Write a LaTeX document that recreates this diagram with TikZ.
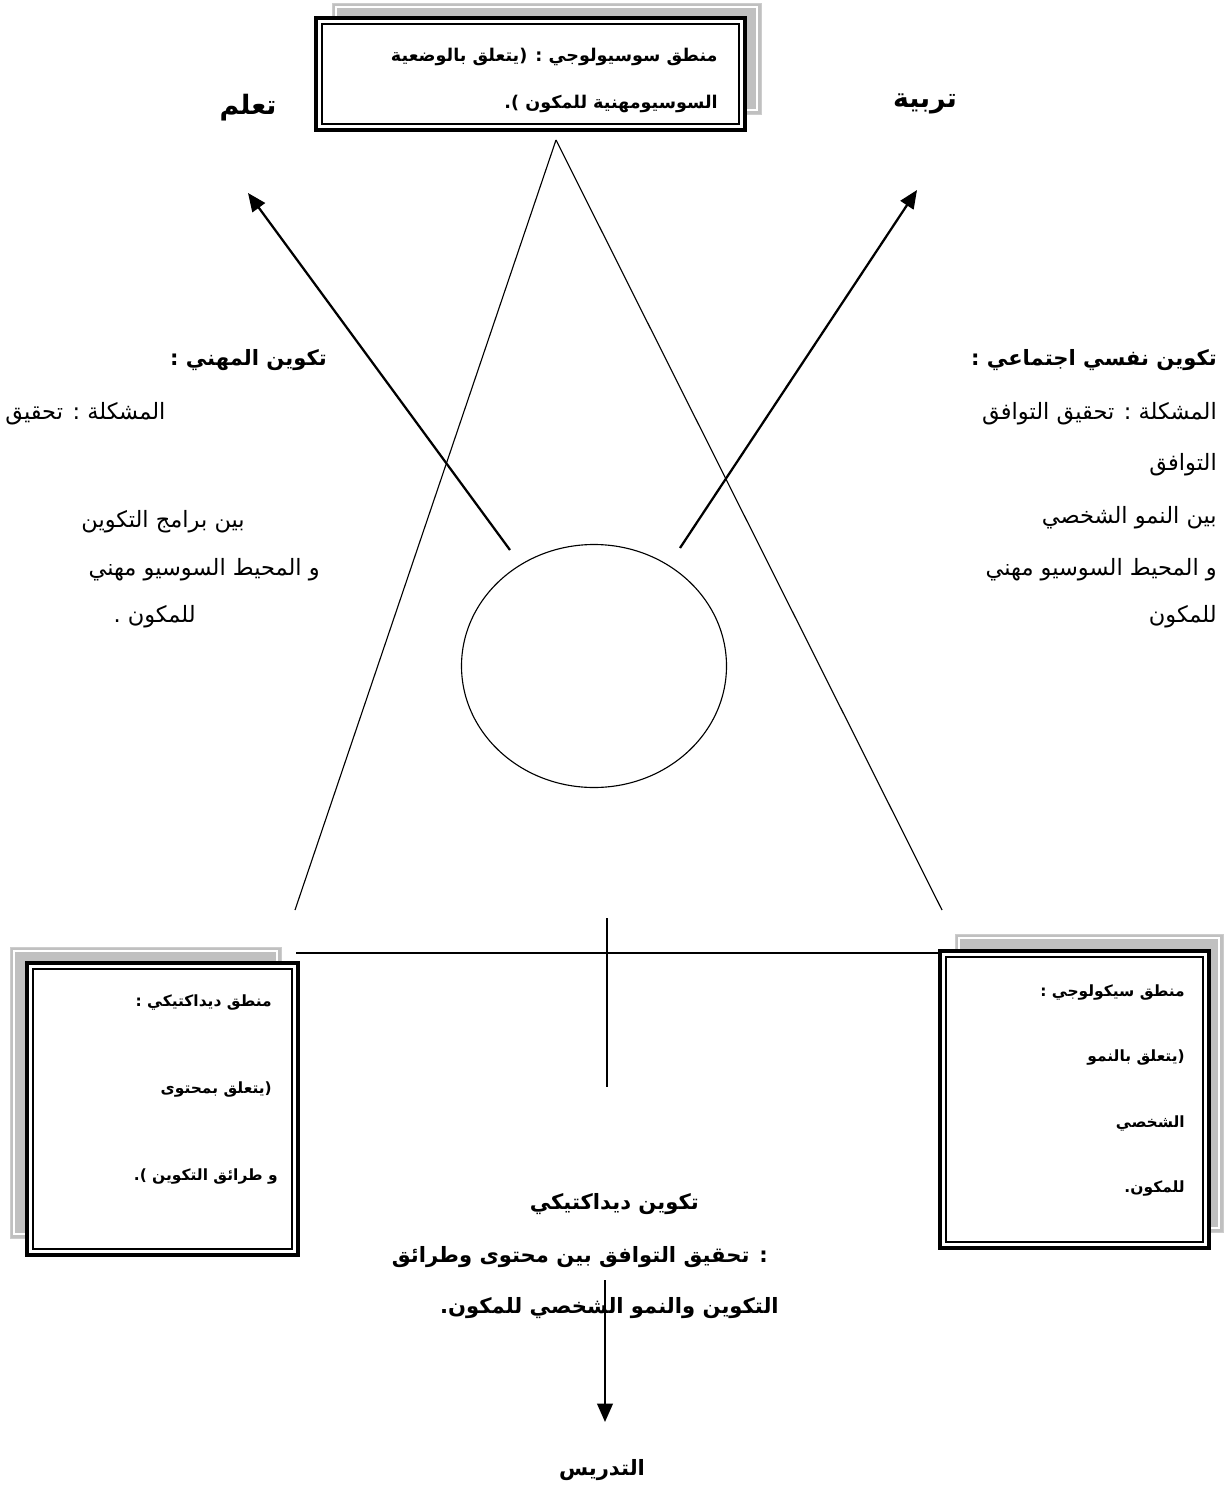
\documentclass[tikz,border=0pt]{standalone}
\usepackage{fontspec}
\usepackage{tikz}
\usetikzlibrary{arrows.meta,positioning,shapes.geometric,calc}
\setmainfont{Liberation Serif}
\TeXXeTstate=1
\newfontfamily\arabicfont[Script=Arabic]{DejaVu Sans}
\newcommand{\ar}[1]{{\arabicfont\beginR #1\endR}}
\definecolor{ink}{RGB}{0,0,0}
\definecolor{shade}{RGB}{192,192,192}

\begin{document}
\begin{tikzpicture}[x=0.025cm,y=-0.025cm,
    every node/.style={inner sep=0pt,text=ink},
    sidehead/.style={font=\fontsize{15}{18}\selectfont\bfseries},
    sideline/.style={font=\fontsize{16}{18}\selectfont},
    boldtext/.style={font=\fontsize{15}{18}\selectfont\bfseries},
    toptext/.style={font=\fontsize{19}{22}\selectfont\bfseries},
    boxtext/.style={font=\fontsize{11}{14}\selectfont\bfseries,anchor=east},
    shadowfill/.style={fill=shade,draw=shade!80!white,line width=0.6pt},
    shadowrule/.style={draw=white,line width=0.8pt},
    outerrule/.style={draw=ink,fill=white,line width=2.2pt},
    innerrule/.style={draw=ink,line width=0.9pt},
    link/.style={draw=ink,line width=0.8pt},
    arrowlink/.style={draw=ink,line width=1.6pt,-{Triangle[length=13pt,width=11pt]}}]
  \useasboundingbox (0,0) rectangle (1224,1491);
  % shaded frames
  \path[shadowfill] (332,3) rectangle (761,114);
  \path[shadowrule] (336,7) rectangle (757,110);
  \path[outerrule] (316,18) rectangle (745,130);
  \path[innerrule] (322,24) rectangle (739,124);
  \path[shadowfill] (10,947) rectangle (281,1238);
  \path[shadowrule] (14,951) rectangle (277,1234);
  \path[outerrule] (27,963) rectangle (298,1255);
  \path[innerrule] (33,969) rectangle (292,1249);
  \path[shadowfill] (955,934) rectangle (1223,1232);
  \path[shadowrule] (959,938) rectangle (1219,1228);
  \path[outerrule] (940,951) rectangle (1209,1248);
  \path[innerrule] (946,957) rectangle (1203,1242);
  % box labels
  \node[boxtext,font=\fontsize{12.5}{15}\selectfont\bfseries] (socio1) at (718,57) {\ar{منطق سوسيولوجي : (يتعلق بالوضعية}};
  \node[boxtext,font=\fontsize{12.5}{15}\selectfont\bfseries] (socio2) at (718,104) {\ar{السوسيومهنية للمكون ).}};
  \node[boxtext] (didac1) at (272,1003) {\ar{منطق ديداكتيكي :}};
  \node[boxtext] (didac2) at (272,1090) {\ar{(يتعلق بمحتوى}};
  \node[boxtext] (didac3) at (278,1177) {\ar{و طرائق التكوين ).}};
  \node[boxtext] (psycho1) at (1185,993) {\ar{منطق سيكولوجي :}};
  \node[boxtext] (psycho2) at (1185,1058) {\ar{(يتعلق بالنمو}};
  \node[boxtext] (psycho3) at (1185,1123) {\ar{الشخصي}};
  \node[boxtext] (psycho4) at (1185,1188) {\ar{للمكون.}};
  % triangle, cross and centre
  \coordinate (apex) at (556,140);
  \coordinate (leftend) at (295,910);
  \coordinate (rightend) at (942,910);
  \coordinate (baseleft) at (296,953);
  \coordinate (baseright) at (940,953);
  \coordinate (midtop) at (607,918);
  \coordinate (midbottom) at (607,1087);
  \node[draw=ink,ellipse,line width=0.8pt,minimum width=265*0.025cm,minimum height=243*0.025cm] (core) at (594,666) {};
  \draw[link] (apex) -- (leftend);
  \draw[link] (apex) -- (rightend);
  \draw[link] (baseleft) -- (baseright);
  \draw[link] (midtop) -- (midbottom);
  % arrows out of the centre
  \node[toptext] (learn) at (248,108) {\ar{تعلم}};
  \node[toptext] (educ) at (925,104) {\ar{تربية}};
  \coordinate (learnfoot) at (510,550);
  \coordinate (educfoot) at (680,548);
  \coordinate (learntip) at (248,193);
  \coordinate (eductip) at (917,190);
  \draw[arrowlink] (learnfoot) -- (learntip);
  \draw[arrowlink] (educfoot) -- (eductip);
  % side texts
  \node[sidehead,anchor=east] (pro1) at (327,360) {\ar{تكوين المهني :}};
  \node[sideline,anchor=west] (pro2) at (5,414) {\ar{المشكلة : تحقيق}};
  \node[sideline,anchor=east] (pro3) at (245,522) {\ar{بين برامج التكوين}};
  \node[sideline,anchor=east] (pro4) at (320,570) {\ar{و المحيط السوسيو مهني}};
  \node[sideline,anchor=east] (pro5) at (196,617) {\ar{للمكون .}};
  \node[sidehead,anchor=east] (psy1) at (1217,360) {\ar{تكوين نفسي اجتماعي :}};
  \node[sideline,anchor=east] (psy2) at (1217,414) {\ar{المشكلة : تحقيق التوافق}};
  \node[sideline,anchor=east] (psy3) at (1217,465) {\ar{التوافق}};
  \node[sideline,anchor=east] (psy4) at (1217,518) {\ar{بين النمو الشخصي}};
  \node[sideline,anchor=east] (psy5) at (1217,570) {\ar{و المحيط السوسيو مهني}};
  \node[sideline,anchor=east] (psy6) at (1217,617) {\ar{للمكون}};
  % bottom text and arrow
  \node[boldtext,anchor=east] (didform1) at (699,1204) {\ar{تكوين ديداكتيكي}};
  \node[boldtext,anchor=east] (didform2) at (768,1257) {\ar{: تحقيق التوافق بين محتوى وطرائق}};
  \node[boldtext,anchor=east] (didform3) at (779,1308) {\ar{التكوين والنمو الشخصي للمكون.}};
  \node[boldtext] (teach) at (602,1470) {\ar{التدريس}};
  \coordinate (teachtop) at (605,1280);
  \coordinate (teachtip) at (605,1422);
  \draw[arrowlink] (teachtop) -- (teachtip);
\end{tikzpicture}
\end{document}
